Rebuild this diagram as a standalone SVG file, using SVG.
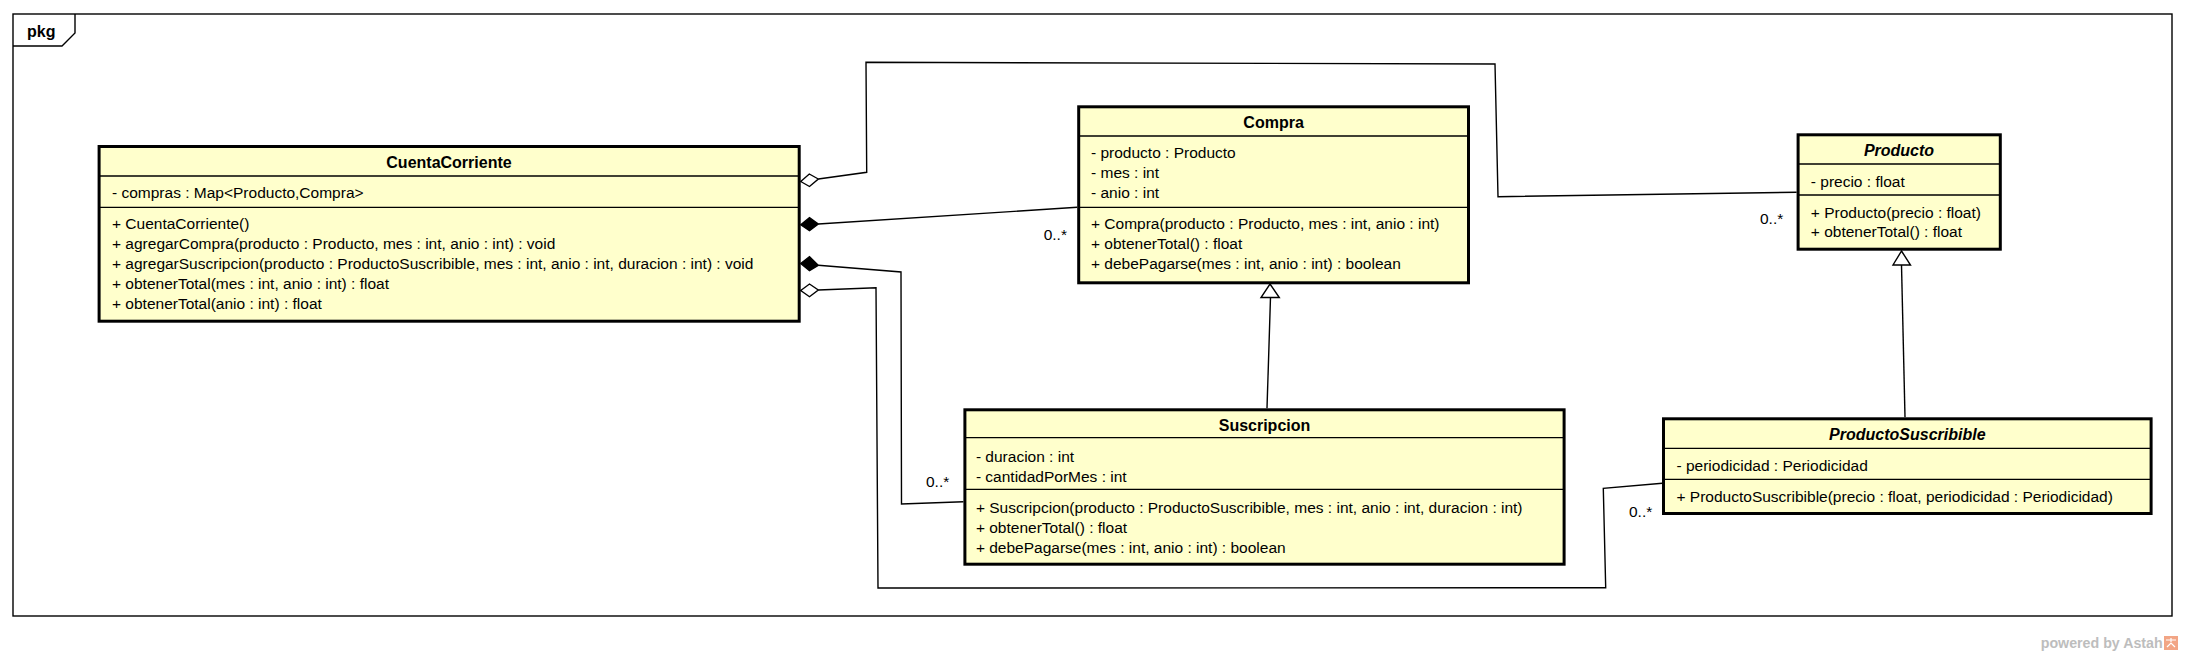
<svg xmlns="http://www.w3.org/2000/svg" width="2185" height="656" viewBox="0 0 2185 656">
<style>
  .frame{fill:none;stroke:#000;stroke-width:1.4}
  .box{fill:#FFFFCC;stroke:#000;stroke-width:3}
  .sep{stroke:#000;stroke-width:1.3}
  .title{font-family:"Liberation Sans",Arial,sans-serif;font-size:16px;font-weight:bold;fill:#000;text-anchor:middle}
  .abs{font-style:italic}
  .mem{font-family:"Liberation Sans",Arial,sans-serif;font-size:15.5px;fill:#000}
  .mult{font-family:"Liberation Sans",Arial,sans-serif;font-size:15.5px;fill:#000}
  .conn{fill:none;stroke:#000;stroke-width:1.4}
  .hollow{fill:#fff;stroke:#000;stroke-width:1.4}
  .filled{fill:#000;stroke:#000;stroke-width:1.4}
  .pkg{font-family:"Liberation Sans",Arial,sans-serif;font-size:16px;font-weight:bold;fill:#000}
  .wm{font-family:"Liberation Sans",Arial,sans-serif;font-size:14px;font-weight:bold;fill:#BDBDBD}
</style>
<rect width="2185" height="656" fill="#fff"/>
<g id="package">
  <rect class="frame" x="13" y="14" width="2159" height="602"/>
  <polyline class="frame" points="13,46 62,46 75,33 75,14"/>
  <text class="pkg" x="27" y="37">pkg</text>
</g>
<g id="connectors">
  <polyline class="conn" points="818.3,179 866.7,172.3 866,62.3 1495,64 1498,196.7 1796.6,192.3"/>
  <polygon class="hollow" points="800.7,181.5 809.3,174 818.3,179 809.5,186.5"/>
  <text class="mult" x="1760" y="224">0..*</text>
  <line class="conn" x1="818.3" y1="224" x2="1077.2" y2="207.3"/>
  <polygon class="filled" points="800.7,224.8 809.5,217.7 818.3,224 809.5,230.7"/>
  <text class="mult" x="1043.7" y="240">0..*</text>
  <polyline class="conn" points="818.3,265.3 901,272 901.5,504 963.4,501.7"/>
  <polygon class="filled" points="800.7,263.5 809.5,256.7 818.3,265.3 809.5,270.7"/>
  <text class="mult" x="926" y="487.3">0..*</text>
  <polyline class="conn" points="818.3,290 876,287.7 878,588 1605.7,587.7 1603.3,488.3 1662.3,483.3"/>
  <polygon class="hollow" points="800.7,290.5 809.5,284 818.3,290 809.5,296.7"/>
  <text class="mult" x="1629" y="516.7">0..*</text>
  <line class="conn" x1="1270.5" y1="297.5" x2="1267" y2="408.3"/>
  <polygon class="hollow" points="1270,284 1279.3,297.5 1261,297.5"/>
  <line class="conn" x1="1901.5" y1="265" x2="1905" y2="417.3"/>
  <polygon class="hollow" points="1901.5,251 1910.5,265 1893,265"/>
</g>
<g id="CuentaCorriente">
  <rect class="box" x="99.1" y="146.5" width="700.1" height="174.7"/>
  <line class="sep" x1="99" y1="176" x2="799" y2="176"/>
  <line class="sep" x1="99" y1="207.3" x2="799" y2="207.3"/>
  <text class="title" x="449" y="168.3">CuentaCorriente</text>
  <text class="mem" x="112" y="198">- compras : Map&lt;Producto,Compra&gt;</text>
  <text class="mem" x="112" y="229.3">+ CuentaCorriente()</text>
  <text class="mem" x="112" y="249.3">+ agregarCompra(producto : Producto, mes : int, anio : int) : void</text>
  <text class="mem" x="112" y="269.3">+ agregarSuscripcion(producto : ProductoSuscribible, mes : int, anio : int, duracion : int) : void</text>
  <text class="mem" x="112" y="289.3">+ obtenerTotal(mes : int, anio : int) : float</text>
  <text class="mem" x="112" y="309.3">+ obtenerTotal(anio : int) : float</text>
</g>
<g id="Compra">
  <rect class="box" x="1078.7" y="106.8" width="389.8" height="176"/>
  <line class="sep" x1="1078.7" y1="136" x2="1468.5" y2="136"/>
  <line class="sep" x1="1078.7" y1="207.3" x2="1468.5" y2="207.3"/>
  <text class="title" x="1273.6" y="128.3">Compra</text>
  <text class="mem" x="1091" y="158.3">- producto : Producto</text>
  <text class="mem" x="1091" y="178.3">- mes : int</text>
  <text class="mem" x="1091" y="198.3">- anio : int</text>
  <text class="mem" x="1091" y="229.3">+ Compra(producto : Producto, mes : int, anio : int)</text>
  <text class="mem" x="1091" y="249.3">+ obtenerTotal() : float</text>
  <text class="mem" x="1091" y="269.3">+ debePagarse(mes : int, anio : int) : boolean</text>
</g>
<g id="Producto">
  <rect class="box" x="1798.1" y="134.8" width="202.2" height="114.4"/>
  <line class="sep" x1="1798.1" y1="164" x2="2000.3" y2="164"/>
  <line class="sep" x1="1798.1" y1="195" x2="2000.3" y2="195"/>
  <text class="title abs" x="1899" y="156.3">Producto</text>
  <text class="mem" x="1810.8" y="186.5">- precio : float</text>
  <text class="mem" x="1810.8" y="217.5">+ Producto(precio : float)</text>
  <text class="mem" x="1810.8" y="237">+ obtenerTotal() : float</text>
</g>
<g id="Suscripcion">
  <rect class="box" x="964.9" y="409.8" width="599.2" height="154.4"/>
  <line class="sep" x1="964.9" y1="437.7" x2="1564.1" y2="437.7"/>
  <line class="sep" x1="964.9" y1="489.3" x2="1564.1" y2="489.3"/>
  <text class="title" x="1264.5" y="431.3">Suscripcion</text>
  <text class="mem" x="975.9" y="461.7">- duracion : int</text>
  <text class="mem" x="975.9" y="481.7">- cantidadPorMes : int</text>
  <text class="mem" x="975.9" y="512.5">+ Suscripcion(producto : ProductoSuscribible, mes : int, anio : int, duracion : int)</text>
  <text class="mem" x="975.9" y="532.5">+ obtenerTotal() : float</text>
  <text class="mem" x="975.9" y="552.5">+ debePagarse(mes : int, anio : int) : boolean</text>
</g>
<g id="ProductoSuscribible">
  <rect class="box" x="1663.5" y="418.8" width="487.6" height="94.7"/>
  <line class="sep" x1="1663.5" y1="448.3" x2="2151.1" y2="448.3"/>
  <line class="sep" x1="1663.5" y1="479.3" x2="2151.1" y2="479.3"/>
  <text class="title abs" x="1907.3" y="440">ProductoSuscribible</text>
  <text class="mem" x="1676.5" y="470.7">- periodicidad : Periodicidad</text>
  <text class="mem" x="1676.5" y="501.7">+ ProductoSuscribible(precio : float, periodicidad : Periodicidad)</text>
</g>
<g id="watermark">
  <text class="wm" x="2040.7" y="648.3" textLength="122" lengthAdjust="spacingAndGlyphs">powered by Astah</text>
  <rect x="2164" y="636" width="14" height="14" fill="#F2A585"/>
  <path d="M2166,640 h10 M2171,638 v4 M2167,647 l4,-4 l4,4" stroke="#fff" stroke-width="1.2" fill="none"/>
</g>
</svg>
